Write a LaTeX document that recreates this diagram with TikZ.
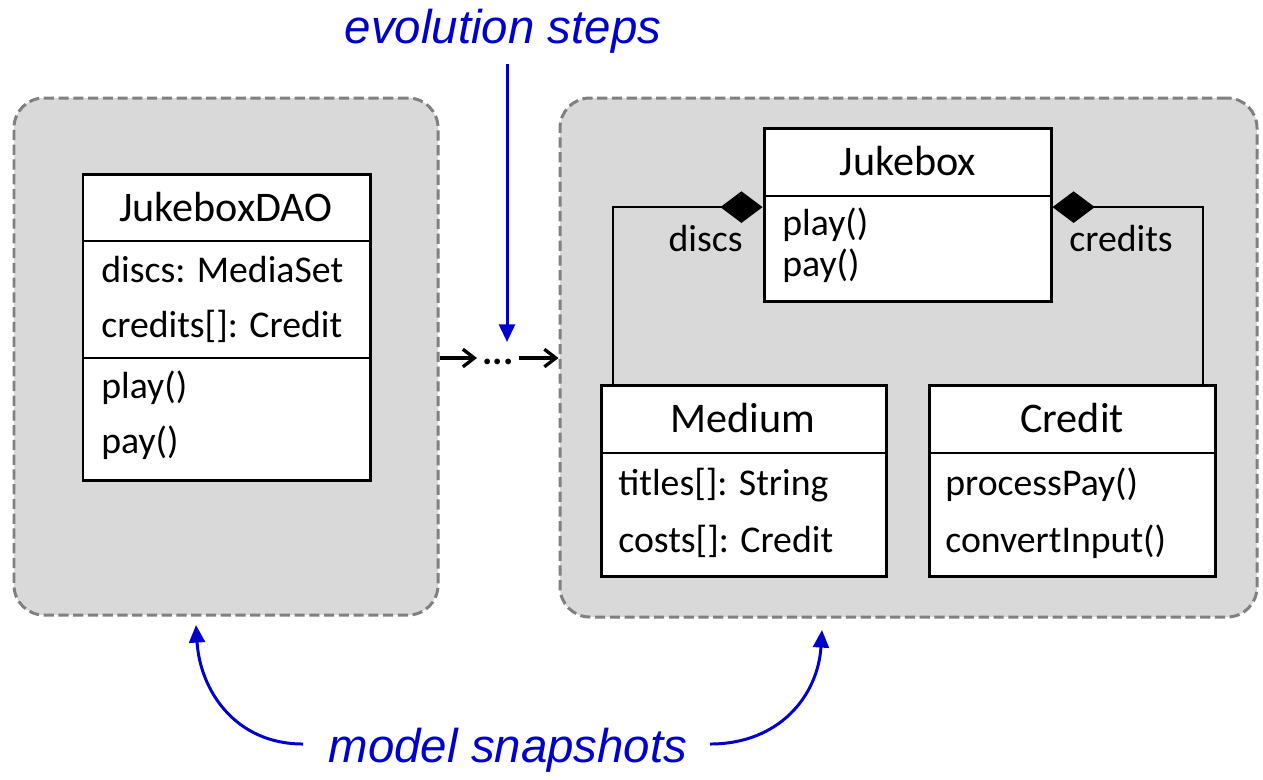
\documentclass[tikz,border=0pt]{standalone}
\usepackage{fontspec}
\setmainfont{Carlito}
\newfontfamily\arialfont{Liberation Sans}
\usetikzlibrary{arrows.meta,fit}
\definecolor{panelgray}{HTML}{D9D9D9}
\definecolor{dashgray}{HTML}{808080}
\definecolor{annblue}{HTML}{0000CC}
\tikzset{
  panel/.style={draw=dashgray, fill=panelgray, line width=1.7pt, dash pattern=on 5.8pt off 2.6pt, rounded corners=17pt, inner sep=0pt},
  umlbox/.style={draw=black, fill=white, line width=1.7pt, inner sep=0pt},
  sepline/.style={draw=black, line width=1.5pt},
  titletext/.style={font=\fontsize{24}{28}\selectfont, inner sep=0pt, anchor=base},
  bodytext/.style={font=\fontsize{21.5}{26}\selectfont, inner sep=0pt, anchor=base west},
  roletext/.style={font=\fontsize{21.5}{26}\selectfont, inner sep=0pt},
  assoc/.style={draw=black, line width=1.1pt},
  flowarrow/.style={draw=black, line width=1.9pt, -{Straight Barb[length=6.5pt,width=10pt]}},
  annot/.style={text=annblue, font=\arialfont\itshape\fontsize{27}{32}\selectfont, inner sep=0pt, anchor=base},
  annarrow/.style={draw=annblue, line width=1.7pt, -{Triangle[length=10pt,width=9pt]}}
}
\begin{document}
\begin{tikzpicture}[x=0.02cm,y=-0.02cm]
\useasboundingbox (0,0) rectangle (1263,779);

% panels
\node[panel, fit={(14,98)(438,615)}] (leftpanel) {};
\node[panel, fit={(560,98)(1257,617)}] (rightpanel) {};

% JukeboxDAO
\node[umlbox, fit={(83,174)(370,480)}] (dao) {};
\draw[sepline] (83,241) -- (370,241);
\draw[sepline] (83,358) -- (370,358);
\node[titletext] (daotitle) at (226,221) {JukeboxDAO};
\node[bodytext] (daoa1) at (101,282) {discs: MediaSet};
\node[bodytext] (daoa2) at (101,337) {credits[]: Credit};
\node[bodytext] (daom1) at (101,398) {play()};
\node[bodytext] (daom2) at (101,453) {pay()};

% Jukebox
\node[umlbox, fit={(764,128)(1051,301)}] (jb) {};
\draw[sepline] (764,196) -- (1051,196);
\node[titletext] (jbtitle) at (908,175) {Jukebox};
\node[bodytext] (jbm1) at (782,235) {play()};
\node[bodytext] (jbm2) at (782,276) {pay()};

% Medium
\node[umlbox, fit={(601,385)(886,576)}] (medium) {};
\draw[sepline] (601,453) -- (886,453);
\node[titletext] (medtitle) at (743,432) {Medium};
\node[bodytext] (meda1) at (618,495) {titles[]: String};
\node[bodytext] (meda2) at (618,552) {costs[]: Credit};

% Credit
\node[umlbox, fit={(929,385)(1215,576)}] (credit) {};
\draw[sepline] (929,453) -- (1215,453);
\node[titletext] (credtitle) at (1072,432) {Credit};
\node[bodytext] (credm1) at (945,495) {processPay()};
\node[bodytext] (credm2) at (945,552) {convertInput()};

% compositions
\draw[assoc, {Diamond[length=24pt,width=18pt,fill=black]}-] ([yshift=4.2pt]jb.west) -| ([xshift=7.7pt]medium.north west);
\draw[assoc, {Diamond[length=24pt,width=18pt,fill=black]}-] ([yshift=4.2pt]jb.east) -| ([xshift=-7.7pt]credit.north east);
\node[roletext, anchor=base east] (discs) at (743,251) {discs};
\node[roletext, anchor=base west] (credits) at (1069,251) {credits};

% evolution arrows
\coordinate (d1) at (477,358);
\coordinate (d2) at (519,358);
\node[roletext, anchor=base, font=\bfseries\fontsize{22}{26}\selectfont] (dots) at (498,364) {...};
\draw[flowarrow] (leftpanel.east |- d1) -- (d1);
\draw[flowarrow] (d2) -- (rightpanel.west |- d2);

% annotations
\node[annot] (evo) at (503,43) {evolution steps};
\coordinate (evostart) at (507,64);
\coordinate (evotip) at (507,342);
\draw[annarrow] (evostart) -- (evotip);

\node[annot] (ms) at (508,762) {model snapshots};
\coordinate (msl) at (303,744);
\coordinate (msr) at (710,744);
\coordinate (tipl) at (196,625);
\coordinate (tipr) at (822,630);
\draw[annarrow] (msl) .. controls (235,744) and (200,690) .. (tipl);
\draw[annarrow] (msr) .. controls (780,744) and (818,695) .. (tipr);
\end{tikzpicture}
\end{document}
